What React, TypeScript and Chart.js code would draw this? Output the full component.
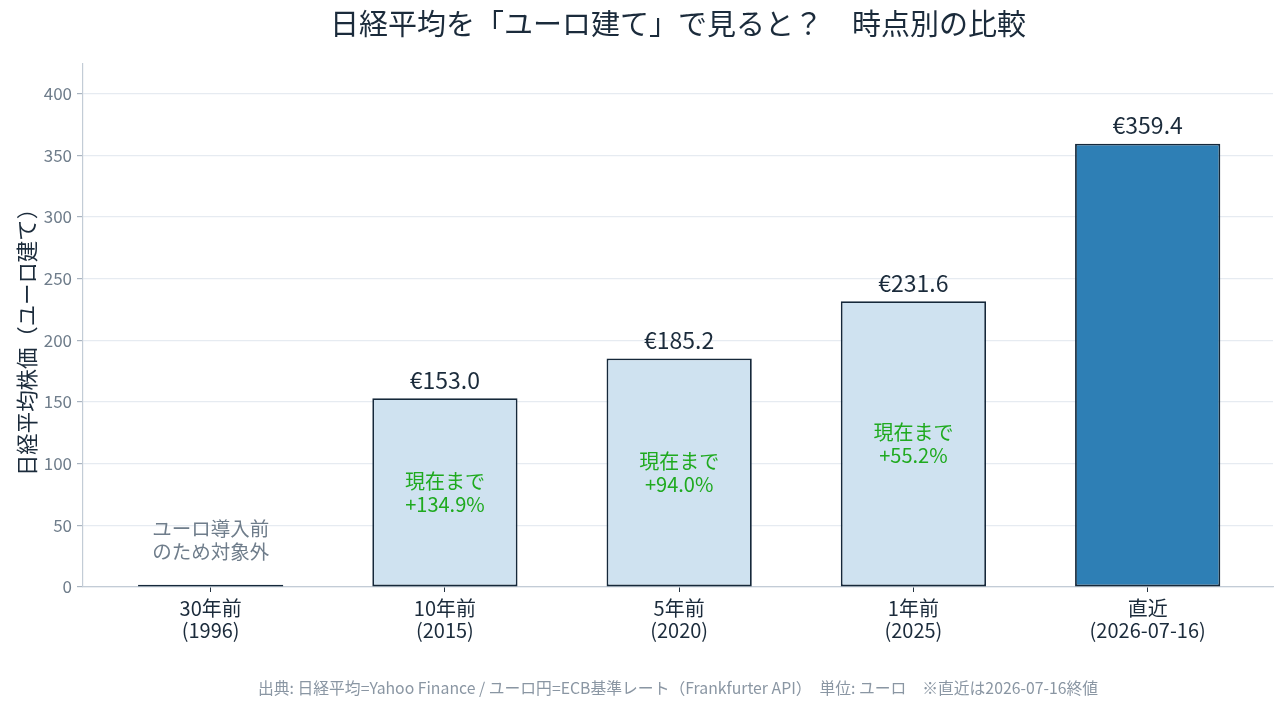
import React, { useEffect, useRef } from 'react';
import { Chart, registerables } from 'chart.js';

Chart.register(...registerables);

// Time points compared
const categories: string[][] = [
  ['30年前', '(1996)'],
  ['10年前', '(2015)'],
  ['5年前', '(2020)'],
  ['1年前', '(2025)'],
  ['直近', '(2026-07-16)'],
];

// Nikkei average converted to euro (30 years ago: euro did not exist yet)
const euroValues: number[] = [0, 153.0, 185.2, 231.6, 359.4];
const valueLabels: string[] = ['', '€153.0', '€185.2', '€231.6', '€359.4'];
const changeLabels: string[] = ['', '+134.9%', '+94.0%', '+55.2%', ''];
const yTicks: number[] = [0, 50, 100, 150, 200, 250, 300, 350, 400];

const TITLE = '日経平均を「ユーロ建て」で見ると？　時点別の比較';
const Y_TITLE = '日経平均株価（ユーロ建て）';
const FOOTER =
  '出典: 日経平均=Yahoo Finance / ユーロ円=ECB基準レート（Frankfurter API）　単位: ユーロ　※直近は2026-07-16終値';
const NA_NOTE = ['ユーロ導入前', 'のため対象外'];
const CHANGE_PREFIX = '現在まで';

const FONT = '"Noto Sans CJK JP", "Noto Sans", sans-serif';
const DARK = '#1b2b3b';
const GRAY = '#6f7d8b';
const GREEN = '#1faa1f';
const EDGE = '#15283a';

const barLabelPlugin = {
  id: 'barLabels',
  afterDatasetsDraw(chart: any) {
    const { ctx } = chart;
    const yScale = chart.scales.y;
    const meta = chart.getDatasetMeta(0);
    ctx.save();
    ctx.textAlign = 'center';
    meta.data.forEach((bar: any, i: number) => {
      const v = euroValues[i];
      if (valueLabels[i]) {
        ctx.font = `23px ${FONT}`;
        ctx.fillStyle = DARK;
        ctx.textBaseline = 'middle';
        ctx.fillText(valueLabels[i], bar.x, bar.y - 18);
      }
      if (changeLabels[i]) {
        const cy = yScale.getPixelForValue(v / 2);
        ctx.font = `20px ${FONT}`;
        ctx.fillStyle = GREEN;
        ctx.textBaseline = 'middle';
        ctx.fillText(CHANGE_PREFIX, bar.x, cy - 11.5);
        ctx.fillText(changeLabels[i], bar.x, cy + 11.5);
      }
      if (i === 0) {
        const cy = yScale.getPixelForValue(38);
        ctx.font = `19.5px ${FONT}`;
        ctx.fillStyle = GRAY;
        ctx.textBaseline = 'middle';
        ctx.fillText(NA_NOTE[0], bar.x, cy - 11.5);
        ctx.fillText(NA_NOTE[1], bar.x, cy + 11.5);
      }
    });
    ctx.restore();
  },
  afterDraw(chart: any) {
    const { ctx, chartArea } = chart;
    const cx = (chartArea.left + chartArea.right) / 2;
    ctx.save();
    ctx.textAlign = 'center';
    ctx.textBaseline = 'middle';
    ctx.fillStyle = DARK;
    ctx.font = `29px ${FONT}`;
    ctx.fillText(TITLE, cx, 24);
    ctx.fillStyle = '#8a96a3';
    ctx.font = `15.8px ${FONT}`;
    ctx.fillText(FOOTER, cx, 688);
    ctx.translate(27, 337);
    ctx.rotate(-Math.PI / 2);
    ctx.fillStyle = DARK;
    ctx.font = `21.4px ${FONT}`;
    ctx.fillText(Y_TITLE, 0, 0);
    ctx.restore();
  },
};

export default function App() {
  const canvasRef = useRef<HTMLCanvasElement | null>(null);

  useEffect(() => {
    document.body.style.margin = '0';
    const canvas = canvasRef.current;
    if (!canvas) return;
    const chart = new Chart(canvas, {
      type: 'bar',
      data: {
        datasets: [
          {
            data: euroValues.map((v, i) => ({ x: i, y: v })),
            backgroundColor: euroValues.map((v, i) =>
              v === 0 ? EDGE : i === euroValues.length - 1 ? '#2e7fb5' : '#cfe2f0'
            ),
            borderColor: EDGE,
            borderWidth: 1.8,
            borderSkipped: false,
            minBarLength: 2.2,
            categoryPercentage: 1,
            barPercentage: 0.62,
          } as any,
        ],
      },
      options: {
        animation: false,
        responsive: false,
        maintainAspectRatio: false,
        layout: { padding: { top: 64, right: 14, left: 0, bottom: 0 } },
        plugins: {
          legend: { display: false },
          tooltip: { enabled: false },
          title: { display: false },
        },
        scales: {
          x: {
            type: 'linear',
            offset: false,
            min: -0.545,
            max: 4.535,
            afterBuildTicks(scale: any) {
              scale.ticks = categories.map((_, i) => ({ value: i }));
            },
            afterFit(scale: any) {
              scale.height = 120;
              scale.paddingLeft = 0;
              scale.paddingRight = 0;
            },
            ticks: {
              autoSkip: false,
              maxRotation: 0,
              padding: 5,
              color: DARK,
              font: { family: FONT, size: 20, lineHeight: 1.12 },
              callback: (v: any) => categories[Math.round(Number(v))] ?? '',
            },
            grid: {
              offset: false,
              drawOnChartArea: false,
              drawTicks: true,
              tickLength: 5,
              tickColor: '#22313f',
            },
            border: { display: true, color: '#c3ccd6', width: 1.2 },
          },
          y: {
            min: 0,
            max: 424,
            afterBuildTicks(scale: any) {
              scale.ticks = yTicks.map((v) => ({ value: v }));
            },
            afterFit(scale: any) {
              scale.width = 83;
              scale.paddingTop = 0;
              scale.paddingBottom = 0;
            },
            ticks: {
              padding: 5,
              color: GRAY,
              font: { family: FONT, size: 17 },
            },
            grid: {
              color: '#e6ebf1',
              lineWidth: 1.2,
              tickLength: 6,
              tickColor: '#aab5c1',
            },
            border: { display: true, color: '#c3ccd6', width: 1.2 },
          },
        },
      } as any,
      plugins: [barLabelPlugin],
    });
    return () => chart.destroy();
  }, []);

  return (
    <div style={{ position: 'absolute', left: 0, top: 0, width: 1287, height: 707, background: '#ffffff' }}>
      <canvas ref={canvasRef} width={1287} height={707} style={{ width: 1287, height: 707, display: 'block' }} />
    </div>
  );
}
